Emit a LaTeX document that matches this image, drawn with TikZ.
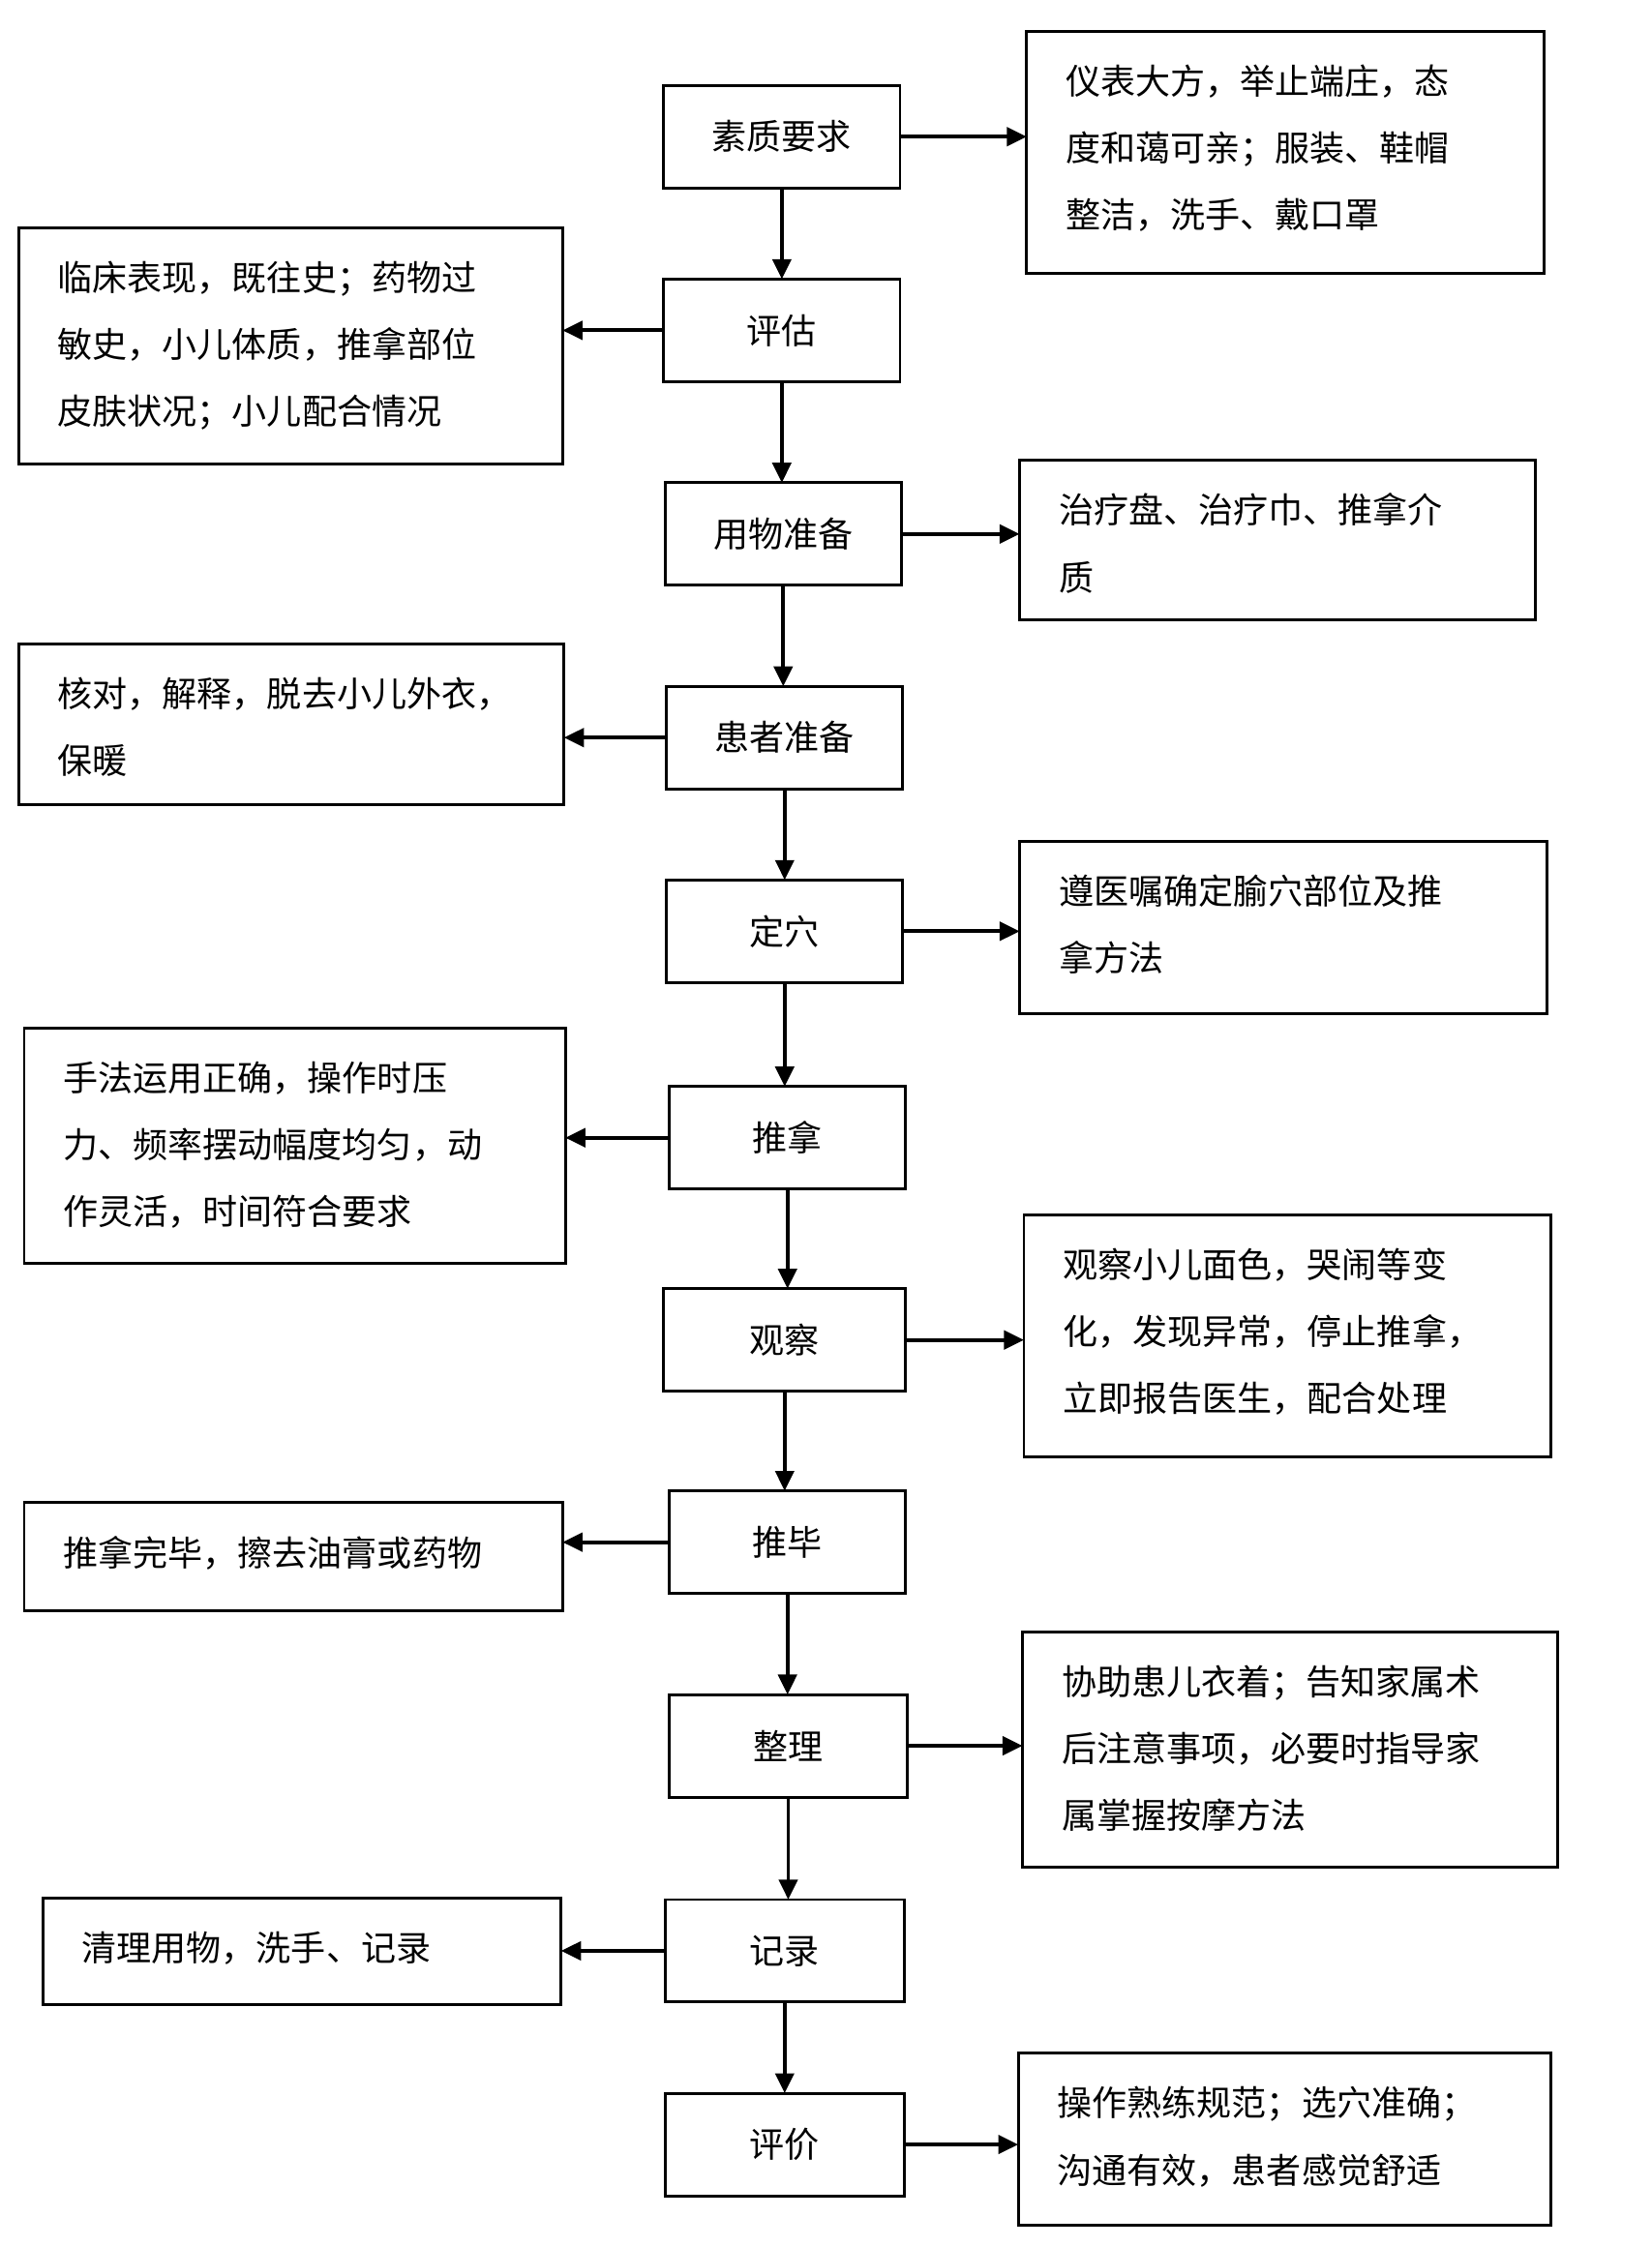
\documentclass[tikz,border=0pt]{standalone}
\usepackage{fontspec}
\setmainfont{Noto Sans CJK SC}
\usetikzlibrary{arrows.meta}
\begin{document}
\begin{tikzpicture}[x=1pt,y=-1pt,
 box/.style={draw,line width=2pt,inner sep=0pt},
 txt/.style={font=\fontsize{24.5}{47}\selectfont,align=left,anchor=north west},
 ctxt/.style={font=\fontsize{24.5}{30}\selectfont},
 arr/.style={line width=2.6pt,-{Triangle[length=14pt,width=13pt]}}]
\useasboundingbox (0,0) rectangle (1160,1578);
\def\cb#1#2#3#4#5#6{\draw[box] (#2,#4) rectangle (#3,#5); \node[ctxt] (#1) at ({(#2+#3)/2},{(#4+#5)/2}) {#6};
 \coordinate (#1t) at ({(#2+#3)/2},#4); \coordinate (#1b) at ({(#2+#3)/2},#5);
 \coordinate (#1l) at (#2,{(#4+#5)/2}); \coordinate (#1r) at (#3,{(#4+#5)/2});}
\def\sb#1#2#3#4#5#6{\draw[box] (#2,#4) rectangle (#3,#5); \node[txt] (#1) at (#2+24,#4+20) {#6};
 \coordinate (#1l) at (#2,{(#4+#5)/2}); \coordinate (#1r) at (#3,{(#4+#5)/2});}
\cb{c1}{466}{632}{60}{132}{素质要求}
\cb{c2}{466}{632}{196}{268}{评估}
\cb{c3}{467}{633}{339}{411}{用物准备}
\cb{c4}{468}{634}{482}{554}{患者准备}
\cb{c5}{468}{634}{618}{690}{定穴}
\cb{c6}{470}{636}{763}{835}{推拿}
\cb{c7}{466}{636}{905}{977}{观察}
\cb{c8}{470}{636}{1047}{1119}{推毕}
\cb{c9}{470}{637}{1190}{1262}{整理}
\cb{c10}{467}{635}{1334}{1406}{记录}
\cb{c11}{467}{635}{1470}{1542}{评价}
\sb{r1}{721}{1084}{22}{192}{仪表大方，举止端庄，态\\度和蔼可亲；服装、鞋帽\\整洁，洗手、戴口罩}
\sb{l2}{13}{395}{160}{326}{临床表现，既往史；药物过\\敏史，小儿体质，推拿部位\\皮肤状况；小儿配合情况}
\sb{r3}{716}{1078}{323}{435}{治疗盘、治疗巾、推拿介\\质}
\sb{l4}{13}{396}{452}{565}{核对，解释，脱去小儿外衣，\\保暖}
\sb{r5}{716}{1086}{591}{712}{遵医嘱确定腧穴部位及推\\拿方法}
\sb{l6}{17}{397}{722}{887}{手法运用正确，操作时压\\力、频率摆动幅度均匀，动\\作灵活，时间符合要求}
\sb{r7}{719}{1089}{853}{1023}{观察小儿面色，哭闹等变\\化，发现异常，停止推拿，\\立即报告医生，配合处理}
\sb{l8}{17}{395}{1055}{1131}{推拿完毕，擦去油膏或药物}
\sb{r9}{718}{1094}{1146}{1311}{协助患儿衣着；告知家属术\\后注意事项，必要时指导家\\属掌握按摩方法}
\sb{l10}{30}{394}{1333}{1408}{清理用物，洗手、记录}
\sb{r11}{715}{1089}{1442}{1563}{操作熟练规范；选穴准确；\\沟通有效，患者感觉舒适}
\foreach \a/\b in {1/2,2/3,3/4,4/5,5/6,6/7,7/8,8/9,9/10,10/11}{\draw[arr] (c\a b) -- (c\a b |- c\b t);}
\foreach \n in {1,3,5,7,9,11}{\draw[arr] (c\n r) -- (c\n r -| r\n l);}
\foreach \n in {2,4,6,8,10}{\draw[arr] (c\n l) -- (c\n l -| l\n r);}
\end{tikzpicture}
\end{document}
